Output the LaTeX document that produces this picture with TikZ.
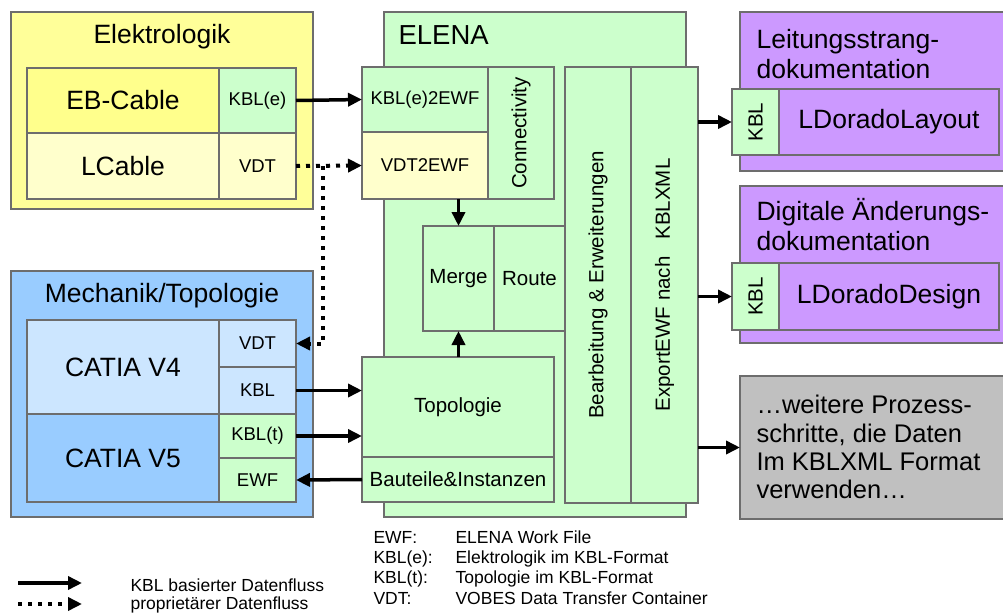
\documentclass[tikz,border=0pt]{standalone}
\usepackage{fontspec}
\setmainfont{Liberation Sans}
\usetikzlibrary{arrows.meta}

\definecolor{frame}{HTML}{6D6D6D}
\definecolor{elyellow}{HTML}{FFFF99}
\definecolor{ebyellow}{HTML}{FFFF8C}
\definecolor{paleyellow}{HTML}{FFFFCC}
\definecolor{elgreen}{HTML}{CCFFCC}
\definecolor{mechblue}{HTML}{99CCFF}
\definecolor{paleblue}{HTML}{CCE6FF}
\definecolor{docpurple}{HTML}{CC99FF}
\definecolor{restgray}{HTML}{C0C0C0}

\newcommand{\sizeBig}{\fontsize{26.5}{30}\selectfont}
\newcommand{\sizeTitle}{\fontsize{27.5}{31}\selectfont}
\newcommand{\sizeRest}{\fontsize{25.5}{29}\selectfont}
\newcommand{\sizeMid}{\fontsize{20.5}{24}\selectfont}
\newcommand{\sizeSmall}{\fontsize{18.5}{22}\selectfont}
\newcommand{\sizeLeg}{\fontsize{17.5}{20}\selectfont}

\tikzset{
    box/.style={draw=frame, line width=1.1pt, anchor=north west, inner sep=0pt, outer sep=0pt},
    flow/.style={line width=3.5pt, -{Triangle[length=14pt,width=13pt]}},
    propflow/.style={flow, line width=4pt, dash pattern=on 4pt off 6pt},
}

\begin{document}
\begin{tikzpicture}[x=1pt, y=-1pt]
    \useasboundingbox (0,0) rectangle (1003,613);

    % Elektrologik
    \node[box, fill=elyellow, minimum width=302pt, minimum height=197pt] (elektro) at (11,12) {};
    \node[font=\sizeBig, anchor=base] (elektrotitle) at (162,43) {Elektrologik};
    \node[box, fill=ebyellow, minimum width=192pt, minimum height=65pt, font=\sizeBig] (ebcable) at (27,68) {EB-Cable};
    \node[box, fill=elgreen, minimum width=77pt, minimum height=65pt, font=\sizeSmall] (kble) at (219,68) {KBL(e)};
    \node[box, fill=paleyellow, minimum width=192pt, minimum height=66pt, font=\sizeBig] (lcable) at (27,133) {LCable};
    \node[box, fill=paleyellow, minimum width=77pt, minimum height=66pt, font=\sizeSmall] (vdte) at (219,133) {VDT};

    % Mechanik/Topologie
    \node[box, fill=mechblue, minimum width=302pt, minimum height=246pt] (mechanik) at (11,271) {};
    \node[font=\sizeBig, anchor=base] (mechaniktitle) at (162,302) {Mechanik/Topologie};
    \node[box, fill=paleblue, minimum width=192pt, minimum height=94pt, font=\sizeBig] (catiafour) at (27,320) {CATIA V4};
    \node[box, fill=paleblue, minimum width=77pt, minimum height=47pt, font=\sizeSmall] (vdtm) at (219,320) {VDT};
    \node[box, fill=paleblue, minimum width=77pt, minimum height=47pt, font=\sizeSmall] (kblm) at (219,367) {KBL};
    \node[box, fill=mechblue, minimum width=192pt, minimum height=88pt, font=\sizeBig] (catiafive) at (27,414) {CATIA V5};
    \node[box, fill=elgreen, minimum width=77pt, minimum height=44pt, font=\sizeSmall] (kblt) at (219,414) {KBL(t)};
    \node[box, fill=elgreen, minimum width=77pt, minimum height=44pt, font=\sizeSmall] (ewf) at (219,458) {EWF};

    % ELENA
    \node[box, fill=elgreen, minimum width=302pt, minimum height=505pt] (elena) at (384,12) {};
    \node[font=\sizeTitle, anchor=base west] (elenatitle) at (395,44) {ELENA};
    \node[box, fill=elgreen, minimum width=126pt, minimum height=65pt, font=\sizeSmall] (kbletoewf) at (362,67) {KBL(e)2EWF};
    \node[box, fill=paleyellow, minimum width=126pt, minimum height=67pt, font=\sizeSmall] (vdttoewf) at (362,132) {VDT2EWF};
    \node[box, fill=elgreen, minimum width=66pt, minimum height=132pt,
          label={[name=conntext, rotate=90, font=\sizeMid]center:Connectivity}] (conn) at (488,67) {};
    \node[box, fill=elgreen, minimum width=71pt, minimum height=105pt, font=\sizeMid] (merge) at (423,226) {Merge};
    \node[box, fill=elgreen, minimum width=71pt, minimum height=105pt, font=\sizeMid] (route) at (494,226) {Route};
    \node[box, fill=elgreen, minimum width=192pt, minimum height=100pt, font=\sizeMid] (topologie) at (362,357) {Topologie};
    \node[box, fill=elgreen, minimum width=192pt, minimum height=45pt, font=\sizeMid] (bauteile) at (362,457) {Bauteile\&Instanzen};
    \node[box, fill=elgreen, minimum width=66pt, minimum height=436pt,
          label={[name=bearbtext, rotate=90, font=\sizeMid]center:Bearbeitung \& Erweiterungen}] (bearb) at (565,67) {};
    \node[box, fill=elgreen, minimum width=67pt, minimum height=436pt,
          label={[name=exporttext, rotate=90, font=\sizeMid]center:ExportEWF nach \ \ KBLXML}] (export) at (631,67) {};

    % Leitungsstrangdokumentation
    \node[box, fill=docpurple, minimum width=275pt, minimum height=159pt] (leitung) at (740,12) {};
    \node[font=\sizeBig, anchor=base west] (leitungone) at (753,48) {Leitungsstrang-};
    \node[font=\sizeBig, anchor=base west] (leitungtwo) at (753,78) {dokumentation};
    \node[box, fill=elgreen, minimum width=47pt, minimum height=66pt,
          label={[name=kbllaytext, rotate=90, font=\sizeMid]center:KBL}] (kbllay) at (732,89) {};
    \node[box, fill=docpurple, minimum width=220pt, minimum height=66pt, font=\sizeBig] (ldlayout) at (779,89) {LDoradoLayout};

    % Digitale Aenderungsdokumentation
    \node[box, fill=docpurple, minimum width=275pt, minimum height=157pt] (aenderung) at (740,186) {};
    \node[font=\sizeBig, anchor=base west] (aenderungone) at (753,220) {Digitale Änderungs-};
    \node[font=\sizeBig, anchor=base west] (aenderungtwo) at (753,250) {dokumentation};
    \node[box, fill=elgreen, minimum width=47pt, minimum height=67pt,
          label={[name=kbldestext, rotate=90, font=\sizeMid]center:KBL}] (kbldes) at (732,263) {};
    \node[box, fill=docpurple, minimum width=220pt, minimum height=67pt, font=\sizeBig] (lddesign) at (779,263) {LDoradoDesign};

    % weitere Schritte
    \node[box, fill=restgray, minimum width=275pt, minimum height=143pt] (weitere) at (740,376) {};
    \node[font=\sizeRest, anchor=base west] (weitereone) at (753,413) {…weitere Prozess-};
    \node[font=\sizeRest, anchor=base west] (weiteretwo) at (753,442) {schritte, die Daten};
    \node[font=\sizeRest, anchor=base west] (weiterethree) at (753,470) {Im KBLXML Format};
    \node[font=\sizeRest, anchor=base west] (weiterefour) at (753,498) {verwenden…};

    % Datenfluss
    \draw[flow] (kble.east) -- (kbletoewf.west);
    \draw[propflow] (vdte.east) -- (vdttoewf.west);
    \coordinate (branch) at (323,166);
    \draw[propflow] (branch) |- (vdtm.east);
    \draw[flow] (kblm.east) -- (kblm.east -| topologie.west);
    \draw[flow] (kblt.east) -- (kblt.east -| topologie.west);
    \draw[flow] (bauteile.west) -- (ewf.east);
    \draw[flow] (vdttoewf.south -| merge.north) -- (merge.north);
    \draw[flow] (topologie.north -| merge.south) -- (merge.south);
    \draw[flow] (export.east |- kbllay.west) -- (kbllay.west);
    \draw[flow] (export.east |- kbldes.west) -- (kbldes.west);
    \draw[flow] (export.east |- weitere.west) -- (weitere.west);

    % Legende
    \coordinate (solidstart) at (18,583);
    \coordinate (solidend) at (82,583);
    \draw[flow] (solidstart) -- (solidend);
    \coordinate (dotstart) at (18,604);
    \coordinate (dotend) at (82,604);
    \draw[propflow] (dotstart) -- (dotend);
    \node[font=\sizeLeg, anchor=base west] (legsolid) at (127,591) {KBL basierter Datenfluss};
    \node[font=\sizeLeg, anchor=base west] (legdot) at (127,609) {proprietärer Datenfluss};

    \node[font=\sizeLeg, anchor=base west] (abbrewf) at (370,543) {EWF:};
    \node[font=\sizeLeg, anchor=base west] (abbrkble) at (370,563) {KBL(e):};
    \node[font=\sizeLeg, anchor=base west] (abbrkblt) at (370,583) {KBL(t):};
    \node[font=\sizeLeg, anchor=base west] (abbrvdt) at (370,604) {VDT:};
    \node[font=\sizeLeg, anchor=base west] (textewf) at (452,543) {ELENA Work File};
    \node[font=\sizeLeg, anchor=base west] (textkble) at (452,563) {Elektrologik im KBL-Format};
    \node[font=\sizeLeg, anchor=base west] (textkblt) at (452,583) {Topologie im KBL-Format};
    \node[font=\sizeLeg, anchor=base west] (textvdt) at (452,604) {VOBES Data Transfer Container};
\end{tikzpicture}
\end{document}
